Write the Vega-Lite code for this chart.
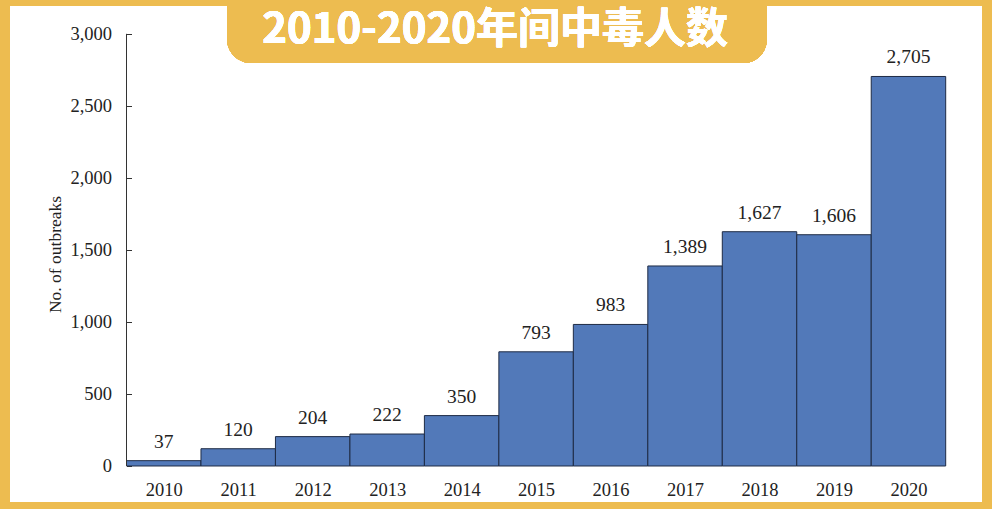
{
  "$schema": "https://vega.github.io/schema/vega-lite/v6.json",
  "autosize": {"type": "none"},
  "width": 972,
  "height": 496,
  "padding": {"left": 10, "top": 6, "right": 10, "bottom": 7},
  "background": "#EDBC50",
  "config": {
    "view": {"fill": "white", "stroke": null},
    "font": "Liberation Serif",
    "axisX": {
      "domain": false, "ticks": false, "tickSize": 0,
      "grid": false, "labelPadding": 14, "offset": -36,
      "labelFont": "Liberation Serif", "labelFontSize": 18.5, "labelColor": "#222222"
    },
    "axisY": {
      "domain": false, "grid": false,
      "ticks": true, "tickSize": -5, "tickColor": "#333333", "labelPadding": 20,
      "offset": -116.5,
      "labelFont": "Liberation Serif", "labelFontSize": 18.5, "labelColor": "#222222",
      "titleFont": "Liberation Serif", "titleFontSize": 17.5, "titleFontWeight": "normal",
      "titleColor": "#222222", "titlePadding": 5
    }
  },
  "data": {
    "values": [
      {"year": 2010, "outbreaks": 37},
      {"year": 2011, "outbreaks": 120},
      {"year": 2012, "outbreaks": 204},
      {"year": 2013, "outbreaks": 222},
      {"year": 2014, "outbreaks": 350},
      {"year": 2015, "outbreaks": 793},
      {"year": 2016, "outbreaks": 983},
      {"year": 2017, "outbreaks": 1389},
      {"year": 2018, "outbreaks": 1627},
      {"year": 2019, "outbreaks": 1606},
      {"year": 2020, "outbreaks": 2705}
    ]
  },
  "layer": [
    {
      "mark": {"type": "bar", "color": "#EDBC50", "cornerRadius": 24, "clip": false},
      "encoding": {
        "x": {"datum": 2010.85, "type": "quantitative",
              "scale": {"domain": [2007.9356, 2020.9874], "nice": false, "zero": false, "padding": 0},
              "axis": {"title": null, "format": "d",
                       "values": [2010, 2011, 2012, 2013, 2014, 2015, 2016, 2017, 2018, 2019, 2020]}},
        "x2": {"datum": 2018.1},
        "y": {"datum": 2798, "type": "quantitative",
              "scale": {"domain": [-250, 3194.4], "nice": false, "zero": false, "padding": 0},
              "axis": {"title": "No. of outbreaks", "format": ",.0f",
                       "values": [0, 500, 1000, 1500, 2000, 2500, 3000]}},
        "y2": {"datum": 3500}
      }
    },
    {
      "mark": {"type": "text", "text": "2010-2020年间中毒人数", "font": "Noto Sans CJK SC",
               "fontWeight": "bold", "fontSize": 42, "color": "white", "align": "center", "baseline": "middle"},
      "encoding": {
        "x": {"datum": 2014.45, "type": "quantitative"},
        "y": {"datum": 3025, "type": "quantitative"}
      }
    },
    {
      "mark": {"type": "bar", "width": 74.47, "color": "#5279B9", "stroke": "#1E2B45", "strokeWidth": 1},
      "encoding": {
        "x": {"field": "year", "type": "quantitative", "axis": {"title": null, "format": "d",
              "values": [2010, 2011, 2012, 2013, 2014, 2015, 2016, 2017, 2018, 2019, 2020]}},
        "y": {"field": "outbreaks", "type": "quantitative", "axis": {"title": "No. of outbreaks", "format": ",.0f",
              "values": [0, 500, 1000, 1500, 2000, 2500, 3000]}},
        "y2": {"datum": 0}
      }
    },
    {
      "mark": {"type": "text", "baseline": "bottom", "dy": -9, "fontSize": 19.5,
               "font": "Liberation Serif", "color": "#222222"},
      "encoding": {
        "x": {"field": "year", "type": "quantitative"},
        "y": {"field": "outbreaks", "type": "quantitative"},
        "text": {"field": "outbreaks", "type": "quantitative", "format": ",.0f"}
      }
    },
    {
      "mark": {"type": "rule", "color": "#333333", "strokeWidth": 1},
      "encoding": {
        "x": {"datum": 2009.5, "type": "quantitative"},
        "y": {"datum": 0, "type": "quantitative"},
        "y2": {"datum": 3000}
      }
    }
  ]
}
